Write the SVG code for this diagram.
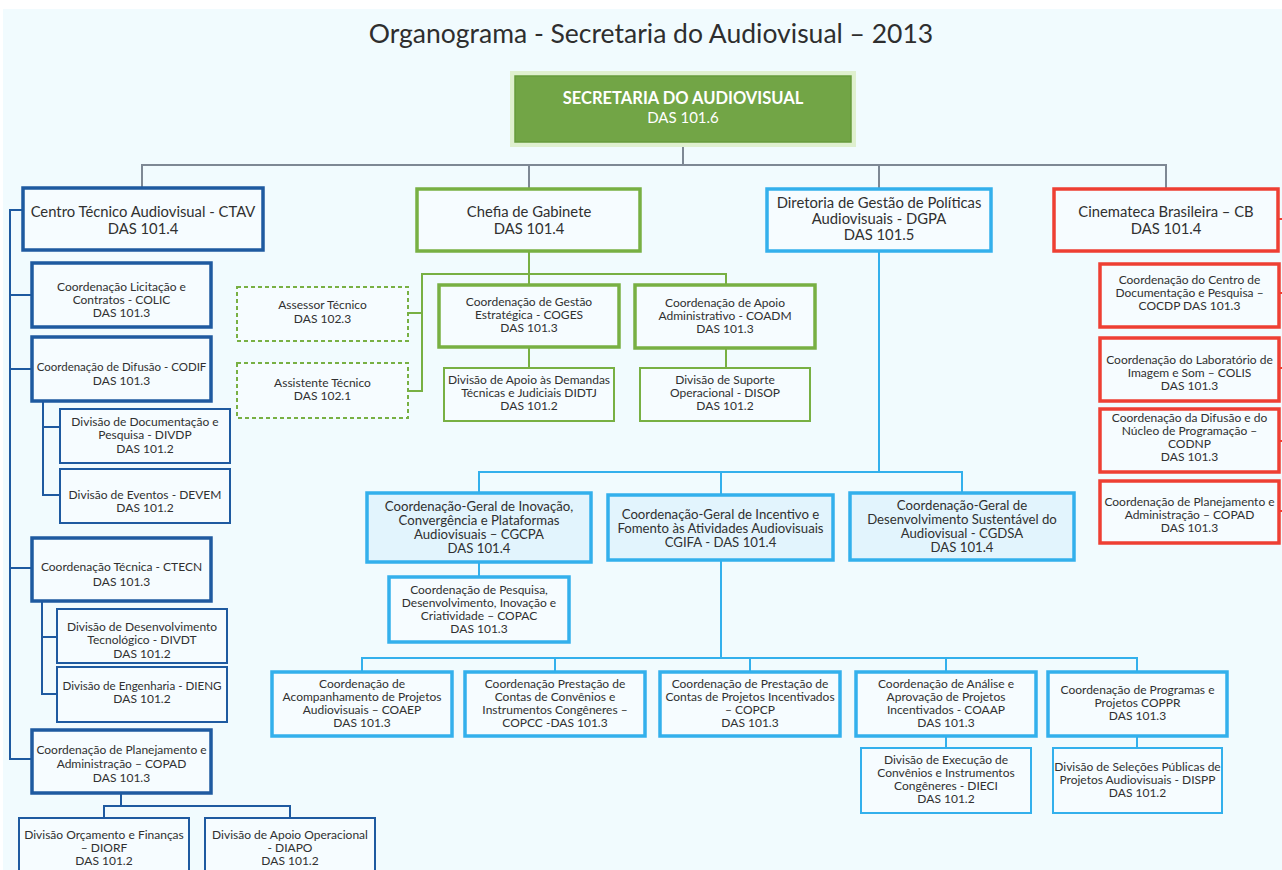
<svg xmlns="http://www.w3.org/2000/svg" width="1282" height="870" viewBox="0 0 1282 870">
<style>
text{font-family:Lato,"Open Sans","Liberation Sans",sans-serif;fill:#303030;text-anchor:middle}
.t{font-size:12px}
.m{font-size:13.2px}
.b{font-size:14.8px}
.box{fill:#f6fcff}
.db3{stroke:#1e5aa0;stroke-width:3.5}
.db2{stroke:#1e5aa0;stroke-width:2}
.lb3{stroke:#33b0ec;stroke-width:3.5}
.lb2{stroke:#33b0ec;stroke-width:2}
.gr3{stroke:#78b043;stroke-width:3.5}
.gr2{stroke:#78b043;stroke-width:2}
.grd{stroke:#78b043;stroke-width:2;stroke-dasharray:4 3}
.rd3{stroke:#ee3f33;stroke-width:3.5}
.cg{fill:#e2f4fd}
#connectors line,#connectors polyline{fill:none;stroke-width:2}
.cgrey{stroke:#7e8894}
.cdb{stroke:#1e5aa0}
.clb{stroke:#33b0ec}
.cgr{stroke:#78b043}
.crd{stroke:#ee3f33}
</style>
<rect x="0" y="0" width="1282" height="870" fill="#ffffff"/>
<rect x="3" y="9" width="1279" height="861" fill="#f1fbfe"/>
<text x="651" y="43" style="font-size:26.5px;fill:#2e2e2e">Organograma - Secretaria do Audiovisual – 2013</text>

<g id="connectors">
<polyline class="cgrey" points="683,146 683,165"/>
<polyline class="cgrey" points="142,188 142,165 1166,165 1166,189"/>
<line class="cgrey" x1="529" y1="165" x2="529" y2="190"/>
<line class="cgrey" x1="879" y1="165" x2="879" y2="189"/>
<polyline class="cdb" points="23,210 10,210 10,759 32,759"/>
<line class="cdb" x1="10" y1="295" x2="32" y2="295"/>
<line class="cdb" x1="10" y1="369" x2="32" y2="369"/>
<line class="cdb" x1="10" y1="568" x2="32" y2="568"/>
<polyline class="cdb" points="43,401 43,495 60,495"/>
<line class="cdb" x1="43" y1="427" x2="60" y2="427"/>
<polyline class="cdb" points="42,601 42,694 57,694"/>
<line class="cdb" x1="42" y1="637" x2="57" y2="637"/>
<line class="cdb" x1="121" y1="793" x2="121" y2="806"/>
<polyline class="cdb" points="104,818 104,806 290,806 290,818"/>
<line class="cgr" x1="529" y1="251" x2="529" y2="285"/>
<polyline class="cgr" points="408,313 422,313 422,274 726,274 726,285"/>
<polyline class="cgr" points="422,313 422,391 408,391"/>
<line class="cgr" x1="529" y1="347" x2="529" y2="368"/>
<line class="cgr" x1="726" y1="348" x2="726" y2="368"/>
<line class="clb" x1="879" y1="251" x2="879" y2="472"/>
<polyline class="clb" points="479,493 479,472 962,472 962,493"/>
<line class="clb" x1="721" y1="472" x2="721" y2="495"/>
<line class="clb" x1="479" y1="562" x2="479" y2="577"/>
<line class="clb" x1="721" y1="560" x2="721" y2="658"/>
<polyline class="clb" points="362,672 362,658 1137,658 1137,672"/>
<line class="clb" x1="555" y1="658" x2="555" y2="672"/>
<line class="clb" x1="750" y1="658" x2="750" y2="672"/>
<line class="clb" x1="946" y1="658" x2="946" y2="672"/>
<line class="clb" x1="946" y1="736" x2="946" y2="748"/>
<line class="clb" x1="1137" y1="736" x2="1137" y2="748"/>
<line class="crd" x1="1278" y1="219" x2="1282" y2="219"/>
<line class="crd" x1="1279" y1="293" x2="1282" y2="293"/>
<line class="crd" x1="1279" y1="368" x2="1282" y2="368"/>
<line class="crd" x1="1279" y1="441" x2="1282" y2="441"/>
<line class="crd" x1="1279" y1="511" x2="1282" y2="511"/>
</g>

<g id="root">
<rect x="510" y="71" width="346" height="76" fill="#dff0cf"/>
<rect x="515" y="76" width="336" height="66" fill="#72a546" stroke="#679a3d" stroke-width="1.5"/>
<text x="683" y="104" style="font-size:16.5px;font-weight:bold;fill:#ffffff">SECRETARIA DO AUDIOVISUAL</text>
<text x="683" y="123" style="font-size:15px;fill:#ffffff">DAS 101.6</text>
</g>

<g id="ctav"><rect class="box db3" x="23" y="188" width="240" height="62"/>
<text class="b" x="143" y="217">Centro Técnico Audiovisual - CTAV</text><text class="b" x="143" y="234">DAS 101.4</text></g>
<g id="colic"><rect class="box db3" x="32" y="263" width="179" height="64"/>
<text class="t" x="121.5" y="291">Coordenação Licitação e</text><text class="t" x="121.5" y="304">Contratos - COLIC</text><text class="t" x="121.5" y="317">DAS 101.3</text></g>
<g id="codif"><rect class="box db3" x="32" y="337" width="179" height="64"/>
<text class="t" x="121.5" y="371" style="font-size:11.5px">Coordenação de Difusão - CODIF</text><text class="t" x="121.5" y="385">DAS 101.3</text></g>
<g id="divdp"><rect class="box db2" x="60" y="409" width="170" height="54"/>
<text class="t" x="145" y="426">Divisão de Documentação e</text><text class="t" x="145" y="439">Pesquisa - DIVDP</text><text class="t" x="145" y="453">DAS 101.2</text></g>
<g id="devem"><rect class="box db2" x="60" y="469" width="170" height="54"/>
<text class="t" x="145" y="499">Divisão de Eventos  - DEVEM</text><text class="t" x="145" y="512">DAS 101.2</text></g>
<g id="ctecn"><rect class="box db3" x="32" y="538" width="179" height="63"/>
<text class="t" x="121.5" y="571">Coordenação Técnica - CTECN</text><text class="t" x="121.5" y="586">DAS 101.3</text></g>
<g id="divdt"><rect class="box db2" x="57" y="609" width="170" height="54"/>
<text class="t" x="142" y="631">Divisão de Desenvolvimento</text><text class="t" x="142" y="644">Tecnológico - DIVDT</text><text class="t" x="142" y="658">DAS 101.2</text></g>
<g id="dieng"><rect class="box db2" x="57" y="667" width="170" height="55"/>
<text class="t" x="142" y="690" style="font-size:11.6px">Divisão de Engenharia -  DIENG</text><text class="t" x="142" y="703">DAS 101.2</text></g>
<g id="copad-ctav"><rect class="box db3" x="32" y="730" width="179" height="63"/>
<text class="t" x="121.5" y="754">Coordenação de Planejamento e</text><text class="t" x="121.5" y="768">Administração – COPAD</text><text class="t" x="121.5" y="782">DAS 101.3</text></g>
<g id="diorf"><rect class="box db2" x="19" y="818" width="170" height="60"/>
<text class="t" x="104" y="839">Divisão Orçamento e Finanças</text><text class="t" x="104" y="852">– DIORF</text><text class="t" x="104" y="865">DAS 101.2</text></g>
<g id="diapo"><rect class="box db2" x="205" y="818" width="170" height="60"/>
<text class="t" x="290" y="839">Divisão de Apoio Operacional</text><text class="t" x="290" y="852">- DIAPO</text><text class="t" x="290" y="865">DAS 101.2</text></g>

<g id="chefia"><rect class="box gr3" x="417" y="189" width="223" height="62"/>
<text class="b" x="529" y="217">Chefia de Gabinete</text><text class="b" x="529" y="234">DAS 101.4</text></g>
<g id="assessor"><rect class="box grd" x="237" y="287" width="171" height="54"/>
<text class="t" x="322.5" y="309">Assessor Técnico</text><text class="t" x="322.5" y="323">DAS 102.3</text></g>
<g id="assistente"><rect class="box grd" x="237" y="363" width="171" height="55"/>
<text class="t" x="322.5" y="387">Assistente Técnico</text><text class="t" x="322.5" y="400">DAS 102.1</text></g>
<g id="coges"><rect class="box gr3" x="439" y="285" width="180" height="62"/>
<text class="t" x="529" y="306">Coordenação de Gestão</text><text class="t" x="529" y="319">Estratégica - COGES</text><text class="t" x="529" y="332">DAS 101.3</text></g>
<g id="didtj"><rect class="box gr2" x="444" y="368" width="170" height="53"/>
<text class="t" x="529" y="384">Divisão de Apoio às Demandas</text><text class="t" x="529" y="397">Técnicas e Judiciais DIDTJ</text><text class="t" x="529" y="410">DAS 101.2</text></g>
<g id="coadm"><rect class="box gr3" x="635" y="285" width="180" height="63"/>
<text class="t" x="725" y="307">Coordenação de Apoio</text><text class="t" x="725" y="320">Administrativo - COADM</text><text class="t" x="725" y="333">DAS 101.3</text></g>
<g id="disop"><rect class="box gr2" x="640" y="368" width="170" height="53"/>
<text class="t" x="725" y="384">Divisão de Suporte</text><text class="t" x="725" y="397">Operacional - DISOP</text><text class="t" x="725" y="410">DAS 101.2</text></g>

<g id="dgpa"><rect class="box lb3" x="767" y="189" width="224" height="62"/>
<text class="b" x="879" y="208">Diretoria de Gestão de Políticas</text><text class="b" x="879" y="224">Audiovisuais - DGPA</text><text class="b" x="879" y="240">DAS 101.5</text></g>
<g id="cgcpa"><rect class="cg lb3" x="367" y="493" width="224" height="69"/>
<text class="m" x="479" y="511">Coordenação-Geral de Inovação,</text><text class="m" x="479" y="525">Convergência e Plataformas</text><text class="m" x="479" y="539">Audiovisuais – CGCPA</text><text class="m" x="479" y="553">DAS 101.4</text></g>
<g id="copac"><rect class="box lb3" x="389" y="577" width="180" height="65"/>
<text class="t" x="479" y="594">Coordenação de Pesquisa,</text><text class="t" x="479" y="607">Desenvolvimento, Inovação e</text><text class="t" x="479" y="620">Criatividade – COPAC</text><text class="t" x="479" y="633">DAS 101.3</text></g>
<g id="cgifa"><rect class="cg lb3" x="608" y="495" width="225" height="65"/>
<text class="m" x="720.5" y="519">Coordenação-Geral de Incentivo e</text><text class="m" x="720.5" y="533">Fomento às Atividades Audiovisuais</text><text class="m" x="720.5" y="547">CGIFA - DAS 101.4</text></g>
<g id="cgdsa"><rect class="cg lb3" x="850" y="493" width="224" height="67"/>
<text class="m" x="962" y="510">Coordenação-Geral de</text><text class="m" x="962" y="524">Desenvolvimento Sustentável do</text><text class="m" x="962" y="538">Audiovisual - CGDSA</text><text class="m" x="962" y="552">DAS 101.4</text></g>
<g id="coaep"><rect class="box lb3" x="272" y="672" width="180" height="64"/>
<text class="t" x="362" y="688">Coordenação de</text><text class="t" x="362" y="701">Acompanhamento de Projetos</text><text class="t" x="362" y="714">Audiovisuais – COAEP</text><text class="t" x="362" y="727">DAS 101.3</text></g>
<g id="copcc"><rect class="box lb3" x="465" y="672" width="180" height="64"/>
<text class="t" x="555" y="688">Coordenação Prestação de</text><text class="t" x="555" y="701">Contas de Convênios e</text><text class="t" x="555" y="714">Instrumentos Congêneres –</text><text class="t" x="555" y="727">COPCC -DAS 101.3</text></g>
<g id="copcp"><rect class="box lb3" x="660" y="672" width="180" height="64"/>
<text class="t" x="750" y="688">Coordenação de Prestação de</text><text class="t" x="750" y="701">Contas de Projetos Incentivados</text><text class="t" x="750" y="714">– COPCP</text><text class="t" x="750" y="727">DAS 101.3</text></g>
<g id="coaap"><rect class="box lb3" x="856" y="672" width="180" height="64"/>
<text class="t" x="946" y="688">Coordenação de Análise e</text><text class="t" x="946" y="701">Aprovação de Projetos</text><text class="t" x="946" y="714">Incentivados - COAAP</text><text class="t" x="946" y="727">DAS 101.3</text></g>
<g id="coppr"><rect class="box lb3" x="1048" y="672" width="179" height="64"/>
<text class="t" x="1137.5" y="694">Coordenação de Programas e</text><text class="t" x="1137.5" y="707">Projetos  COPPR</text><text class="t" x="1137.5" y="720">DAS 101.3</text></g>
<g id="dieci"><rect class="box lb2" x="861" y="748" width="170" height="65"/>
<text class="t" x="946" y="764">Divisão de Execução de</text><text class="t" x="946" y="777">Convênios e Instrumentos</text><text class="t" x="946" y="790">Congêneres - DIECI</text><text class="t" x="946" y="803">DAS 101.2</text></g>
<g id="dispp"><rect class="box lb2" x="1053" y="748" width="169" height="65"/>
<text class="t" x="1137.5" y="771">Divisão de Seleções Públicas de</text><text class="t" x="1137.5" y="784">Projetos Audiovisuais - DISPP</text><text class="t" x="1137.5" y="797">DAS 101.2</text></g>

<g id="cb"><rect class="box rd3" x="1054" y="189" width="224" height="62"/>
<text class="b" x="1166" y="217">Cinemateca Brasileira – CB</text><text class="b" x="1166" y="234">DAS 101.4</text></g>
<g id="cocdp"><rect class="box rd3" x="1100" y="264" width="179" height="63"/>
<text class="t" x="1189.5" y="284">Coordenação do Centro de</text><text class="t" x="1189.5" y="297">Documentação e Pesquisa –</text><text class="t" x="1189.5" y="310">COCDP DAS 101.3</text></g>
<g id="colis"><rect class="box rd3" x="1100" y="338" width="179" height="63"/>
<text class="t" x="1189.5" y="364">Coordenação do Laboratório de</text><text class="t" x="1189.5" y="377">Imagem e Som – COLIS</text><text class="t" x="1189.5" y="390">DAS 101.3</text></g>
<g id="codnp"><rect class="box rd3" x="1100" y="409" width="179" height="63"/>
<text class="t" x="1189.5" y="422">Coordenação da Difusão e do</text><text class="t" x="1189.5" y="435">Núcleo de Programação –</text><text class="t" x="1189.5" y="448">CODNP</text><text class="t" x="1189.5" y="461">DAS 101.3</text></g>
<g id="copad-cb"><rect class="box rd3" x="1100" y="481" width="179" height="62"/>
<text class="t" x="1189.5" y="506">Coordenação de Planejamento e</text><text class="t" x="1189.5" y="519">Administração – COPAD</text><text class="t" x="1189.5" y="532">DAS 101.3</text></g>
</svg>
